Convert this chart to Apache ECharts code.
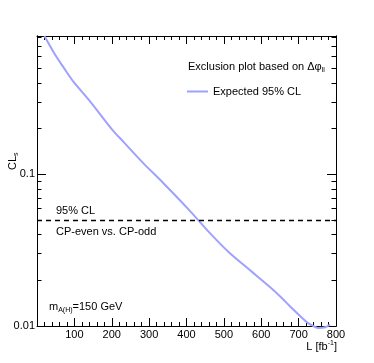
<!DOCTYPE html>
<html>
<head>
<meta charset="utf-8">
<script src="https://cdn.jsdelivr.net/npm/echarts@6/dist/echarts.min.js"></script>
<style>
  html, body { margin: 0; padding: 0; background: #fff; }
  #main { width: 374px; height: 363px; }
</style>
</head>
<body>
<div id="main"></div>
<script>
  // expected CLs vs integrated luminosity
  var lumi = [20, 49, 71, 98, 143, 201, 232, 285, 339, 406, 464, 517, 571, 624, 655, 678, 722, 736, 752, 771, 784];
  var cls = [0.815, 0.61, 0.506, 0.406, 0.30, 0.197, 0.163, 0.118, 0.087, 0.0585, 0.0406, 0.030, 0.0232, 0.018, 0.0153, 0.0134, 0.0106, 0.0101, 0.0097, 0.0098, 0.0102];
  var yMajor = [0.01, 0.1];
  var yMinor = [0.02, 0.03, 0.04, 0.05, 0.06, 0.07, 0.08, 0.09, 0.2, 0.3, 0.4, 0.5, 0.6, 0.7, 0.8];
  var clLimit = 0.05;

  var font = 'Liberation Sans';
  var points = lumi.map(function (l, i) { return [l, cls[i]]; });

  function xAx(pos, showLabels) {
    return {
      type: 'value', position: pos, min: 0, max: 800, interval: 100,
      axisLine: { show: true, lineStyle: { color: '#000', width: 1 } },
      axisTick: { show: true, inside: true, length: 8, lineStyle: { color: '#000' } },
      minorTick: { show: true, splitNumber: 5, length: 4, lineStyle: { color: '#000' } },
      splitLine: { show: false },
      axisLabel: {
        show: showLabels, color: '#000', fontFamily: font, fontSize: 11, margin: 3,
        formatter: function (v) { return v === 0 ? '' : v; }
      }
    };
  }

  function yAx(pos, ticks, len, showLabels) {
    return {
      type: 'log', logBase: 10, position: pos, min: 0.01, max: 0.815,
      axisLine: { show: true, lineStyle: { color: '#000', width: 1 } },
      axisTick: { show: true, inside: true, length: len, customValues: ticks, lineStyle: { color: '#000' } },
      splitLine: { show: false },
      axisLabel: { show: showLabels, customValues: yMajor, color: '#000', fontFamily: font, fontSize: 11, margin: 2 }
    };
  }

  var myChart = echarts.init(document.getElementById('main'));
  var option = {
    animation: false,
    grid: { left: 37, top: 36, right: 38, bottom: 37, outerBoundsMode: 'none' },
    xAxis: [xAx('bottom', true), xAx('top', false)],
    yAxis: [
      yAx('left', yMajor, 9, true),
      yAx('left', yMinor, 4.5, false),
      yAx('right', yMajor, 9, false),
      yAx('right', yMinor, 4.5, false)
    ],
    legend: {
      left: 187, top: 86, padding: 0,
      icon: 'rect', itemWidth: 21, itemHeight: 2,
      textStyle: { color: '#000', fontFamily: font, fontSize: 11 },
      data: ['Expected 95% CL']
    },
    series: [
      {
        name: 'Expected 95% CL',
        type: 'line',
        xAxisIndex: 0, yAxisIndex: 0,
        data: points,
        symbol: 'none',
        smooth: 0.3,
        clip: false,
        lineStyle: { color: '#a0a0ff', width: 2 },
        itemStyle: { color: '#a0a0ff' },
        markLine: {
          silent: true,
          symbol: 'none',
          label: { show: false },
          lineStyle: { color: '#000', width: 1.3, type: [5, 4] },
          data: [{ yAxis: clLimit }]
        }
      }
    ],
    graphic: [
      {
        type: 'text', left: 188, top: 61,
        style: {
          text: 'Exclusion plot based on Δφ{sub|ll}',
          fill: '#000', font: '11px ' + font,
          rich: { sub: { fontSize: 7, verticalAlign: 'bottom', padding: [8, 0, 0, 0], fill: '#000' } }
        }
      },
      { type: 'text', left: 56, top: 205, style: { text: '95% CL', fill: '#000', font: '11px ' + font } },
      { type: 'text', left: 56, top: 226, style: { text: 'CP-even vs. CP-odd', fill: '#000', font: '11px ' + font } },
      {
        type: 'text', left: 49, top: 301,
        style: {
          text: 'm{sub|A(H)}=150 GeV', fill: '#000', font: '11px ' + font,
          rich: { sub: { fontSize: 7, verticalAlign: 'bottom', padding: [7, 0, 0, 0], fill: '#000' } }
        }
      },
      {
        type: 'text', x: 337, y: 340,
        style: {
          text: 'L [fb{sup|-1}]', fill: '#000', font: '11px ' + font, align: 'right',
          rich: { sup: { fontSize: 7, verticalAlign: 'top', padding: [0, 0, 6, 0], fill: '#000' } }
        }
      },
      {
        type: 'text', x: 6, y: 170, rotation: Math.PI / 2,
        style: {
          text: 'CL{sub|s}', fill: '#000', font: '11px ' + font,
          rich: { sub: { fontSize: 7, verticalAlign: 'bottom', padding: [7, 0, 0, 0], fill: '#000' } }
        }
      }
    ]
  };

  myChart.setOption(option);
  setTimeout(function () { myChart.resize(); }, 0);
</script>
</body>
</html>
